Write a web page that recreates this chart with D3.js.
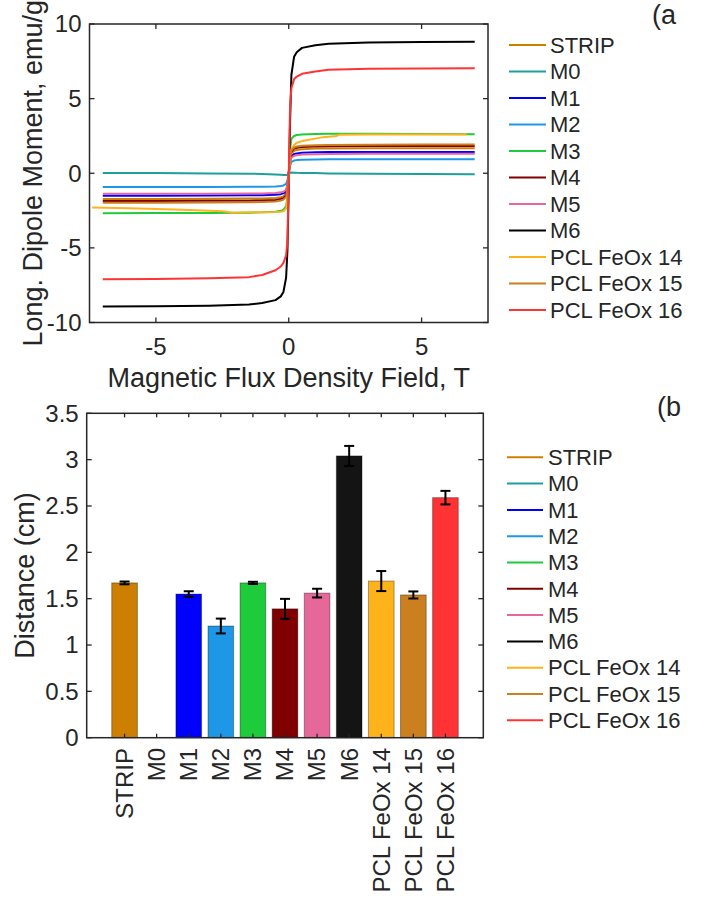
<!DOCTYPE html>
<html>
<head>
<meta charset="utf-8">
<script src="https://cdn.jsdelivr.net/npm/d3@7"></script>
<style>
    body { margin: 0; background: #fff; }
    svg text { font-family: "Liberation Sans", Arial, sans-serif; fill: #262626; }
</style>
</head>
<body>
<div id="chartContainer"></div>
<script>
// Sample names and colours (same order in both panels)
const samples = ["STRIP", "M0", "M1", "M2", "M3", "M4", "M5", "M6", "PCL FeOx 14", "PCL FeOx 15", "PCL FeOx 16"];
const colors = ["#CC7F00", "#1F9E9E", "#0000FF", "#1E98E6", "#1ECB3A", "#800000", "#E6679A", "#000000", "#FFB31A", "#CC7F1F", "#FF3333"];

// (a) magnetisation curves, field in T, moment in emu/g
const fieldT = [-7, -5, -3, -1.5, -1, -0.5, -0.3, -0.2, -0.1, -0.05, 0, 0.05, 0.1, 0.2, 0.3, 0.5, 1, 1.5, 3, 5, 7];
const fieldT14 = [-7.4, -6, -4, -2.5, -2.1, -1.5, -1, -0.5, -0.3, -0.2, -0.1, -0.05, 0, 0.05, 0.1, 0.2, 0.3, 0.6, 1, 1.3, 1.8, 1.9, 3, 5, 6.7];
const momentSTRIP = [-1.72, -1.72, -1.71, -1.7, -1.69, -1.65, -1.6, -1.55, -1.38, -0.95, 0.0, 0.92, 1.34, 1.51, 1.56, 1.61, 1.65, 1.66, 1.67, 1.68, 1.68];
const momentM0 = [0.02, 0.01, -0.01, -0.03, -0.05, -0.08, -0.1, -0.11, -0.11, -0.1, -0.02, 0.03, 0.05, 0.04, 0.03, 0.02, 0.01, -0.01, -0.03, -0.05, -0.07];
const momentM1 = [-1.5, -1.5, -1.49, -1.48, -1.47, -1.44, -1.4, -1.35, -1.2, -0.83, 0.0, 0.79, 1.14, 1.29, 1.33, 1.37, 1.4, 1.42, 1.43, 1.43, 1.43];
const momentM2 = [-0.92, -0.92, -0.92, -0.91, -0.9, -0.88, -0.85, -0.82, -0.72, -0.48, 0.02, 0.52, 0.76, 0.85, 0.88, 0.9, 0.92, 0.93, 0.94, 0.94, 0.93];
const momentM3 = [-2.68, -2.67, -2.66, -2.64, -2.62, -2.58, -2.52, -2.45, -2.2, -1.6, 0.0, 1.6, 2.3, 2.5, 2.56, 2.6, 2.63, 2.65, 2.65, 2.63, 2.61];
const momentM4 = [-1.86, -1.86, -1.85, -1.84, -1.82, -1.79, -1.73, -1.67, -1.49, -1.02, 0.0, 1.0, 1.46, 1.65, 1.7, 1.76, 1.79, 1.81, 1.82, 1.83, 1.83];
const momentM5 = [-1.38, -1.38, -1.37, -1.36, -1.35, -1.32, -1.28, -1.24, -1.1, -0.76, 0.0, 0.72, 1.04, 1.17, 1.21, 1.25, 1.27, 1.29, 1.3, 1.3, 1.3];
const momentM6 = [-8.93, -8.91, -8.87, -8.8, -8.7, -8.5, -8.25, -7.95, -7.0, -5.2, -1.0, 3.5, 6.6, 7.8, 8.1, 8.4, 8.58, 8.68, 8.76, 8.8, 8.81];
const momentPCL14 = [-2.3, -2.35, -2.45, -2.55, -2.64, -2.62, -2.62, -2.6, -2.58, -2.55, -2.35, -1.8, -0.3, 1.2, 1.6, 1.9, 2.05, 2.2, 2.32, 2.42, 2.5, 2.58, 2.6, 2.6, 2.6];
const momentPCL15 = [-1.97, -1.97, -1.96, -1.95, -1.93, -1.89, -1.83, -1.77, -1.58, -1.08, 0.0, 1.06, 1.54, 1.73, 1.79, 1.84, 1.88, 1.9, 1.91, 1.92, 1.92];
const momentPCL16 = [-7.1, -7.08, -7.03, -6.96, -6.82, -6.5, -6.25, -6.0, -5.5, -4.6, 0.0, 4.5, 5.7, 6.3, 6.48, 6.66, 6.82, 6.93, 7.0, 7.02, 7.03];
const moments = [momentSTRIP, momentM0, momentM1, momentM2, momentM3, momentM4, momentM5, momentM6, momentPCL14, momentPCL15, momentPCL16];
const fields = samples.map(s => s === "PCL FeOx 14" ? fieldT14 : fieldT);

const fieldTicks = [-5, 0, 5];
const momentTicks = [-10, -5, 0, 5, 10];

// (b) distance with error bars, cm (M0 has no bar)
const distance = [1.67, null, 1.55, 1.205, 1.67, 1.39, 1.56, 3.04, 1.69, 1.54, 2.59];
const distanceErr = [0.015, null, 0.03, 0.08, 0.012, 0.108, 0.047, 0.108, 0.108, 0.038, 0.073];
const distanceTicks = [0, 0.5, 1, 1.5, 2, 2.5, 3, 3.5];

function createChart() {
    const width = 715;
    const height = 903;
    const axisColor = "#262626";
    const tickFont = 24;
    const labelFont = 27;
    const legendFont = 22;

    const svg = d3.create("svg")
        .attr("width", width)
        .attr("height", height)
        .attr("viewBox", [0, 0, width, height]);

    // ---------- panel (a) ----------
    const ax = { left: 89.5, right: 488, top: 24, bottom: 322.5 };

    const x = d3.scaleLinear().domain([-7.5, 7.5]).range([ax.left, ax.right]);
    const y = d3.scaleLinear().domain([-10, 10]).range([ax.bottom, ax.top]);

    const line = d3.line()
        .x(d => x(d[0]))
        .y(d => y(d[1]));

    const curves = svg.append("g")
        .attr("fill", "none")
        .attr("stroke-width", 2)
        .attr("stroke-linejoin", "round");
    samples.forEach((s, i) => {
        curves.append("path")
            .attr("d", line(fields[i].map((f, j) => [f, moments[i][j]])))
            .attr("stroke", colors[i]);
    });

    drawBox(svg, ax, axisColor);

    // ticks inside on all four sides
    const axA = svg.append("g").attr("stroke", axisColor).attr("stroke-width", 1.3);
    fieldTicks.forEach(t => {
        axA.append("line").attr("x1", x(t)).attr("x2", x(t)).attr("y1", ax.bottom).attr("y2", ax.bottom - 5);
        axA.append("line").attr("x1", x(t)).attr("x2", x(t)).attr("y1", ax.top).attr("y2", ax.top + 5);
    });
    momentTicks.forEach(t => {
        axA.append("line").attr("x1", ax.left).attr("x2", ax.left + 5).attr("y1", y(t)).attr("y2", y(t));
        axA.append("line").attr("x1", ax.right).attr("x2", ax.right - 5).attr("y1", y(t)).attr("y2", y(t));
    });

    svg.append("g").selectAll("text")
        .data(fieldTicks)
        .join("text")
        .attr("x", d => x(d))
        .attr("y", 355)
        .attr("text-anchor", "middle")
        .attr("font-size", tickFont)
        .text(d => d);

    svg.append("g").selectAll("text")
        .data(momentTicks)
        .join("text")
        .attr("x", ax.left - 8)
        .attr("y", d => y(d))
        .attr("dy", "0.35em")
        .attr("text-anchor", "end")
        .attr("font-size", tickFont)
        .text(d => d);

    svg.append("text")
        .attr("x", (ax.left + ax.right) / 2)
        .attr("y", 387)
        .attr("text-anchor", "middle")
        .attr("font-size", labelFont)
        .text("Magnetic Flux Density Field, T");

    svg.append("text")
        .attr("transform", `translate(42,${(ax.top + ax.bottom) / 2}) rotate(-90)`)
        .attr("text-anchor", "middle")
        .attr("font-size", labelFont)
        .text("Long. Dipole Moment, emu/g");

    svg.append("text")
        .attr("x", 652).attr("y", 24)
        .attr("font-size", labelFont)
        .text("(a");

    drawLegend(svg, 509, 546, 550, 45, 26.5, legendFont);

    // ---------- panel (b) ----------
    const bx = { left: 86.7, right: 483.3, top: 413.3, bottom: 737.7 };

    const xb = d3.scaleBand()
        .domain(samples)
        .range([bx.left, bx.right])
        .paddingInner(0.2)
        .paddingOuter(0.78);
    const yb = d3.scaleLinear().domain([0, 3.5]).range([bx.bottom, bx.top]);

    const barData = samples.map((s, i) => ({ name: s, value: distance[i], err: distanceErr[i], color: colors[i] }))
        .filter(d => d.value !== null);

    svg.append("g")
        .selectAll("rect")
        .data(barData)
        .join("rect")
        .attr("x", d => xb(d.name))
        .attr("y", d => yb(d.value))
        .attr("width", xb.bandwidth())
        .attr("height", d => yb(0) - yb(d.value))
        .attr("fill", d => d.name === "M6" ? "#141414" : d.color)
        .attr("stroke", "#000")
        .attr("stroke-opacity", 0.35)
        .attr("stroke-width", 1);

    // error bars
    const errG = svg.append("g").attr("stroke", "#000").attr("stroke-width", 2);
    barData.forEach(d => {
        const cx = xb(d.name) + xb.bandwidth() / 2;
        errG.append("line").attr("x1", cx).attr("x2", cx).attr("y1", yb(d.value - d.err)).attr("y2", yb(d.value + d.err));
        errG.append("line").attr("x1", cx - 5).attr("x2", cx + 5).attr("y1", yb(d.value - d.err)).attr("y2", yb(d.value - d.err));
        errG.append("line").attr("x1", cx - 5).attr("x2", cx + 5).attr("y1", yb(d.value + d.err)).attr("y2", yb(d.value + d.err));
    });

    drawBox(svg, bx, axisColor);

    const axB = svg.append("g").attr("stroke", axisColor).attr("stroke-width", 1.3);
    samples.forEach(s => {
        const cx = xb(s) + xb.bandwidth() / 2;
        axB.append("line").attr("x1", cx).attr("x2", cx).attr("y1", bx.bottom).attr("y2", bx.bottom - 4);
        axB.append("line").attr("x1", cx).attr("x2", cx).attr("y1", bx.top).attr("y2", bx.top + 4);
    });
    distanceTicks.forEach(t => {
        axB.append("line").attr("x1", bx.left).attr("x2", bx.left + 5).attr("y1", yb(t)).attr("y2", yb(t));
        axB.append("line").attr("x1", bx.right).attr("x2", bx.right - 5).attr("y1", yb(t)).attr("y2", yb(t));
    });

    svg.append("g").selectAll("text")
        .data(distanceTicks)
        .join("text")
        .attr("x", bx.left - 8)
        .attr("y", d => yb(d))
        .attr("dy", "0.35em")
        .attr("text-anchor", "end")
        .attr("font-size", tickFont)
        .text(d => d);

    svg.append("g").selectAll("text")
        .data(samples)
        .join("text")
        .attr("transform", d => `translate(${xb(d) + xb.bandwidth() / 2},748) rotate(-90)`)
        .attr("dy", "0.35em")
        .attr("text-anchor", "end")
        .attr("font-size", tickFont)
        .text(d => d);

    svg.append("text")
        .attr("transform", `translate(34,${(bx.top + bx.bottom) / 2}) rotate(-90)`)
        .attr("text-anchor", "middle")
        .attr("font-size", labelFont)
        .text("Distance (cm)");

    svg.append("text")
        .attr("x", 657).attr("y", 416)
        .attr("font-size", labelFont)
        .text("(b");

    drawLegend(svg, 507, 543, 548, 457.3, 26.3, legendFont);

    return svg.node();
}

function drawBox(svg, a, color) {
    svg.append("rect")
        .attr("x", a.left)
        .attr("y", a.top)
        .attr("width", a.right - a.left)
        .attr("height", a.bottom - a.top)
        .attr("fill", "none")
        .attr("stroke", color)
        .attr("stroke-width", 1.5);
}

function drawLegend(svg, x0, x1, tx, y0, step, fontSize) {
    const g = svg.append("g");
    samples.forEach((s, i) => {
        const yy = y0 + i * step;
        g.append("line")
            .attr("x1", x0).attr("x2", x1)
            .attr("y1", yy).attr("y2", yy)
            .attr("stroke", colors[i])
            .attr("stroke-width", 2);
        g.append("text")
            .attr("x", tx).attr("y", yy)
            .attr("dy", "0.35em")
            .attr("font-size", fontSize)
            .text(s);
    });
}

document.addEventListener('DOMContentLoaded', function () {
    document.getElementById('chartContainer').appendChild(createChart());
});
</script>
</body>
</html>
